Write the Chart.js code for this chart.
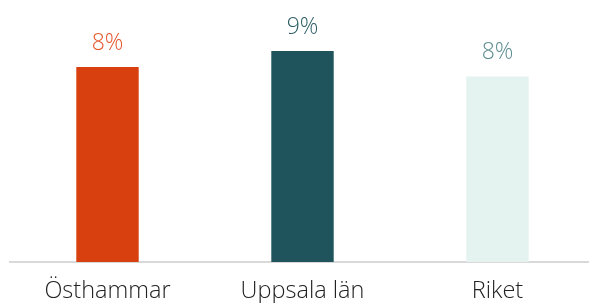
<!DOCTYPE html>
<html>
<head>
<meta charset="utf-8">
<script src="https://cdn.jsdelivr.net/npm/chart.js@4"></script>
<style>
  html, body { margin: 0; padding: 0; background: #fff; overflow: hidden; }
  #chart { display: block; }
</style>
</head>
<body>
<canvas id="chart" width="589" height="303"></canvas>
<script>
// Andel (%) per område
const categories = ['Östhammar', 'Uppsala län', 'Riket'];
const values = [8.4, 9.1, 8.0];
const valueLabels = ['8%', '9%', '8%'];
const barColors = ['#D8400F', '#1F545C', '#E4F3EF'];
const labelColors = ['#E4562C', '#2E5E65', '#5E8D8F'];

const FONT = "'Open Sans', 'Lato', sans-serif";

const valueLabelPlugin = {
  id: 'valueLabels',
  afterDatasetsDraw: (chart) => {
    const ctx = chart.ctx;
    const meta = chart.getDatasetMeta(0);
    ctx.save();
    ctx.font = '300 23px ' + FONT;
    ctx.textAlign = 'center';
    ctx.textBaseline = 'alphabetic';
    meta.data.forEach((bar, i) => {
      ctx.fillStyle = labelColors[i];
      ctx.fillText(valueLabels[i], bar.x, bar.y - 17);
    });
    ctx.restore();
  },
};

// let the x axis run a few px past the right edge, as in the original
const stretchPlugin = {
  id: 'stretchX',
  afterLayout: (chart) => {
    const x = chart.scales.x;
    x.right += 6;
    x.width += 6;
    x.configure();
    chart.chartArea.right += 6;
    chart.chartArea.width += 6;
  },
};

new Chart(document.getElementById('chart'), {
  type: 'bar',
  data: {
    labels: categories,
    datasets: [{
      data: values,
      backgroundColor: barColors,
      borderWidth: 0,
      barPercentage: 0.32,
      categoryPercentage: 1,
    }],
  },
  options: {
    responsive: false,
    animation: false,
    layout: { padding: { left: 10, right: 0, top: 30, bottom: 0 } },
    plugins: {
      legend: { display: false },
      tooltip: { enabled: false },
    },
    scales: {
      x: {
        grid: { display: false, drawTicks: false },
        border: { display: true, color: '#D9D9D9', width: 2 },
        ticks: {
          color: '#222',
          padding: 15,
          font: { family: FONT, size: 23.5, weight: 300 },
        },
        afterFit: (axis) => { axis.height = 41; },
      },
      y: {
        display: false,
        min: 0,
        max: 10,
      },
    },
  },
  plugins: [stretchPlugin, valueLabelPlugin],
});
</script>
</body>
</html>
